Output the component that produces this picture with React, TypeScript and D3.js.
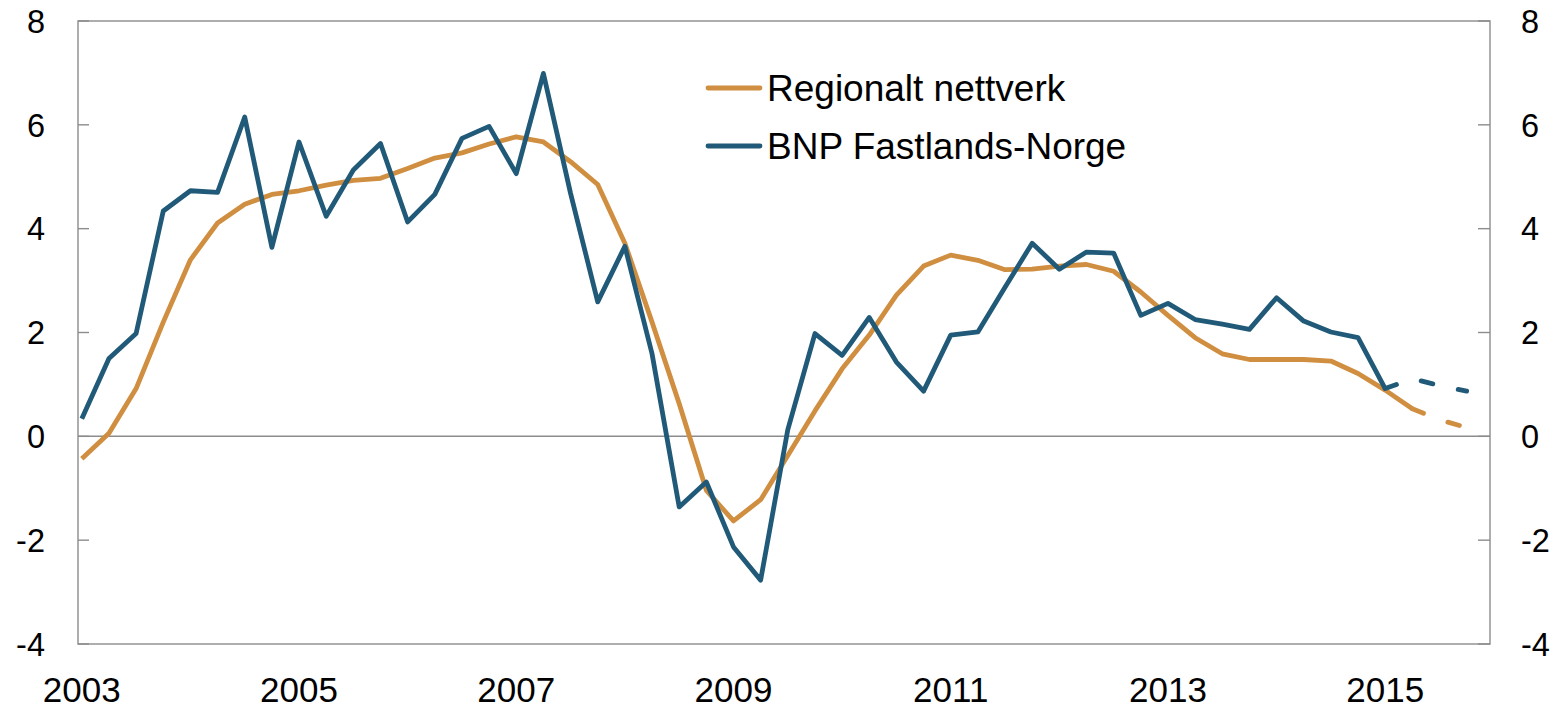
import React from "react";
import * as d3 from "d3";

// kvartalsvis vekst, prosent
const years = [2003, 2004, 2005, 2006, 2007, 2008, 2009, 2010, 2011, 2012, 2013, 2014, 2015];
const quarters = years.flatMap((y) => [1, 2, 3, 4].map((q) => `${y}K${q}`));

const regionaltNettverk = [
  -0.43, 0.06, 0.92, 2.2, 3.4, 4.11, 4.47, 4.66, 4.73, 4.84, 4.93, 4.97,
  5.16, 5.36, 5.46, 5.63, 5.77, 5.67, 5.29, 4.85, 3.72, 2.2, 0.63, -1.04,
  -1.63, -1.22, -0.37, 0.49, 1.3, 1.95, 2.72, 3.28, 3.49, 3.39, 3.21, 3.22,
  3.28, 3.31, 3.18, 2.78, 2.33, 1.9, 1.59, 1.48, 1.48, 1.48, 1.45, 1.21,
  0.89, 0.53, 0.32, 0.17,
];

const bnpFastland = [
  0.34, 1.5, 1.98, 4.34, 4.73, 4.7, 6.15, 3.64, 5.67, 4.24, 5.13, 5.64,
  4.13, 4.66, 5.74, 5.97, 5.06, 6.99, 4.68, 2.59, 3.66, 1.59, -1.36, -0.88,
  -2.13, -2.77, 0.13, 1.98, 1.56, 2.29, 1.43, 0.87, 1.95, 2.01, 2.87, 3.72,
  3.22, 3.55, 3.53, 2.33, 2.56, 2.25, 2.16, 2.06, 2.67, 2.22, 2.01, 1.9,
  0.92, 1.11, 0.98, 0.87,
];

// første kvartal som er anslag (stiplet)
const regionaltAnslagFra = "2015K2";
const bnpAnslagFra = "2015K1";

const yTicks = [-4, -2, 0, 2, 4, 6, 8];
const xTickYears = [2003, 2005, 2007, 2009, 2011, 2013, 2015];

const W = 1566;
const H = 708;
const left = 78;
const right = 1490;
const top = 21;
const bottom = 644;

const font = "'Liberation Sans', Arial, Helvetica, sans-serif";
const orange = "#d08e40";
const blue = "#215a78";
const grey = "#8c8c8c";

function qTime(label: string) {
  const y = +label.slice(0, 4);
  const q = +label.slice(5);
  return y + (q - 1) / 4;
}

type Pt = { t: number; v: number };

function Series({ values, forecastFrom, color }: { values: number[]; forecastFrom: string; color: string }) {
  const x = d3.scaleLinear().domain([2002.965, 2015.965]).range([left, right]);
  const y = d3.scaleLinear().domain([-4, 8]).range([bottom, top]);
  const pts: Pt[] = values.map((v, i) => ({ t: qTime(quarters[i]), v }));
  const k = quarters.indexOf(forecastFrom);
  const line = d3
    .line<Pt>()
    .x((d) => x(d.t))
    .y((d) => y(d.v));
  return (
    <g fill="none" stroke={color} strokeWidth={4.8} strokeLinejoin="round">
      <path d={line(pts.slice(0, k + 1)) || ""} />
      <path d={line(pts.slice(k)) || ""} strokeDasharray="12,26" strokeLinecap="round" />
    </g>
  );
}

export default function App() {
  const x = d3.scaleLinear().domain([2002.965, 2015.965]).range([left, right]);
  const y = d3.scaleLinear().domain([-4, 8]).range([bottom, top]);

  const legend = [
    { name: "Regionalt nettverk", color: orange, ly: 88 },
    { name: "BNP Fastlands-Norge", color: blue, ly: 146 },
  ];

  return (
    <svg
      width={W}
      height={H}
      style={{ position: "absolute", left: 0, top: 0, display: "block", background: "#fff" }}
    >
      {/* ramme */}
      <rect x={left} y={top} width={right - left} height={bottom - top} fill="none" stroke={grey} strokeWidth={1.4} />
      <line x1={left} x2={right} y1={y(0)} y2={y(0)} stroke={grey} strokeWidth={1.5} />

      {yTicks.map((t) => (
        <g key={t}>
          <line x1={left} x2={left + 11} y1={y(t)} y2={y(t)} stroke={grey} strokeWidth={1.4} />
          <line x1={right - 12} x2={right} y1={y(t)} y2={y(t)} stroke={grey} strokeWidth={1.4} />
          <text x={45} y={y(t) + 11.7} textAnchor="end" fontFamily={font} fontSize={32.5} fill="#000">
            {t}
          </text>
          <text x={1521} y={y(t) + 11.7} textAnchor="start" fontFamily={font} fontSize={32.5} fill="#000">
            {t}
          </text>
        </g>
      ))}

      {xTickYears.map((yr) => (
        <text key={yr} x={x(yr)} y={701.5} textAnchor="middle" fontFamily={font} fontSize={35} fill="#000">
          {yr}
        </text>
      ))}

      <Series values={regionaltNettverk} forecastFrom={regionaltAnslagFra} color={orange} />
      <Series values={bnpFastland} forecastFrom={bnpAnslagFra} color={blue} />

      {legend.map((l) => (
        <g key={l.name}>
          <line x1={708} x2={760} y1={l.ly} y2={l.ly} stroke={l.color} strokeWidth={4.8} strokeLinecap="round" />
          <text x={767} y={l.ly + 13.3} fontFamily={font} fontSize={37} fill="#000">
            {l.name}
          </text>
        </g>
      ))}
    </svg>
  );
}
